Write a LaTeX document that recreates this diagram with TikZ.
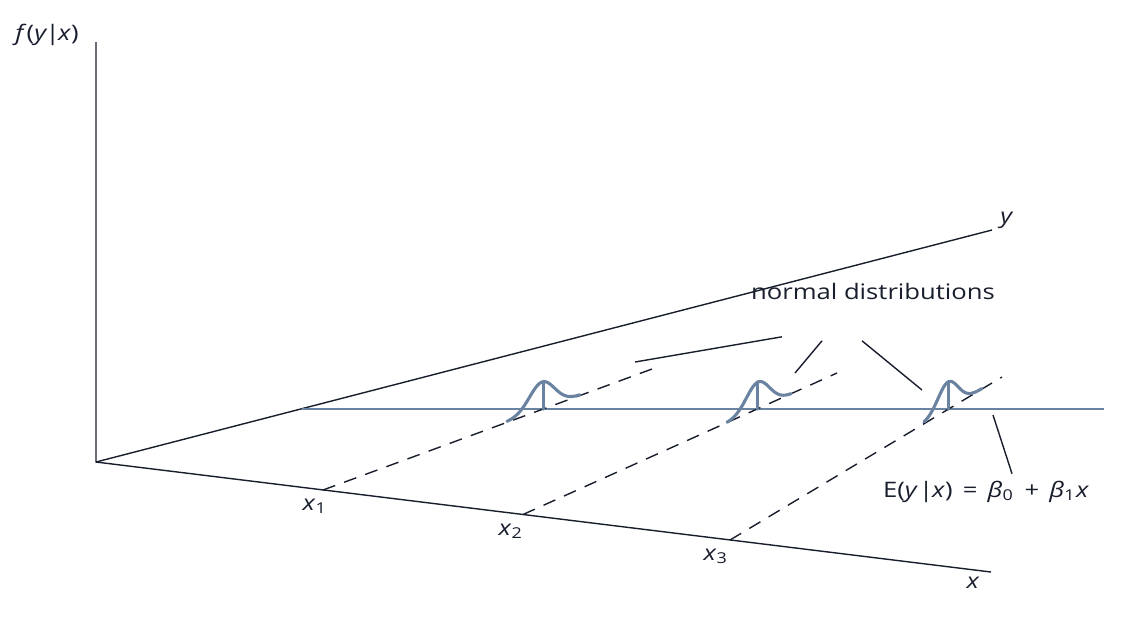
\documentclass[tikz,border=0pt]{standalone}
\usepackage{fontspec}
\setmainfont{Open Sans}[FakeStretch=1.2]
\usetikzlibrary{calc}
\definecolor{ink}{RGB}{25,30,45}
\definecolor{slate}{RGB}{106,131,161}

\begin{document}
\begin{tikzpicture}[x=0.0125cm,y=-0.0125cm,
  axis/.style={draw=ink,line width=0.5pt},
  guide/.style={draw=ink,line width=0.5pt,dash pattern=on 4.6pt off 3.4pt},
  bell/.style={draw=slate,line width=1.1pt,line cap=round},
  lbl/.style={text=ink,inner sep=0pt,font=\fontsize{7.6}{9}\selectfont}]
  \useasboundingbox (0,0) rectangle (1127,623);
  %
  % axes
  \coordinate (O) at (96,462);
  \coordinate (ftop) at (96,42);
  \coordinate (yend) at (992,230);
  \coordinate (xend) at (991,572);
  \draw[axis] (ftop) -- (O) -- (xend);
  \draw[axis] (O) -- (yend);
  \node[lbl] (flab) at (47,35) {\textit{f}(\textit{y}\kern-0.6pt|\kern-0.6pt\textit{x})};
  \node[lbl] (ylab) at (1007,220) {\textit{y}};
  \node[lbl] (xlab) at (973,583) {\textit{x}};
  %
  % regression line
  \coordinate (rstart) at (302,409);
  \coordinate (rend) at (1104,409);
  \draw[draw=slate,line width=1.05pt] (rstart) -- (rend);
  %
  % guides from x1, x2, x3
  \coordinate (x1) at (323,490);
  \coordinate (x2) at (523,514.5);
  \coordinate (x3) at (730,540);
  \coordinate (g1) at (652,369);
  \coordinate (g2) at (837,373);
  \coordinate (g3) at (1002,377);
  \draw[guide] (x1) -- (g1);
  \draw[guide] (x2) -- (g2);
  \draw[guide] (x3) -- (g3);
  \node[lbl] (x1lab) at (315,506) {\textit{x}\textsubscript{1}};
  \node[lbl] (x2lab) at (511,531) {\textit{x}\textsubscript{2}};
  \node[lbl] (x3lab) at (716,556) {\textit{x}\textsubscript{3}};
  %
  % normal curves
  \coordinate (p1) at (intersection of x1--g1 and rstart--rend);
  \coordinate (p2) at (intersection of x2--g2 and rstart--rend);
  \coordinate (p3) at (intersection of x3--g3 and rstart--rend);
  \draw[bell] plot[domain=-35:38,samples=60,smooth] ({542+\x},{409-0.368*\x-27*exp(-(\x*\x)/312)});
  \draw[bell] plot[domain=-31:33,samples=60,smooth] ({758+\x},{409-0.451*\x-27*exp(-(\x*\x)/264)});
  \draw[bell] plot[domain=-24:34,samples=60,smooth] ({948+\x},{409-0.599*\x-27*exp(-(\x*\x)/200)});
  \draw[bell] (p1) -- ++(0,-27);
  \draw[bell] (p2) -- ++(0,-27);
  \draw[bell] (p3) -- ++(0,-27);
  %
  % labels with leaders
  \node[lbl] (nd) at (873,291) {normal distributions};
  \coordinate (nd1) at ($(nd.south)+(-91,37)$);
  \coordinate (nd2) at ($(nd.south)+(-51,41)$);
  \coordinate (nd3) at ($(nd.south)+(-11,41)$);
  \coordinate (t1) at (635,362);
  \coordinate (t2) at (795,373);
  \coordinate (t3) at (922,390);
  \draw[axis] (nd1) -- (t1);
  \draw[axis] (nd2) -- (t2);
  \draw[axis] (nd3) -- (t3);
  %
  \node[lbl] (elab) at (986,492) {E(\textit{y}\kern0.4pt|\kern-0.4pt\textit{x})\ \,=\ \,\textit{β}\textsubscript{0}\ \,+\ \,\textit{β}\textsubscript{1}\textit{x}};
  \coordinate (eline) at (993,415);
  \draw[axis] ($(elab.north)+(26,-7)$) -- (eline);
  %
\end{tikzpicture}
\end{document}
